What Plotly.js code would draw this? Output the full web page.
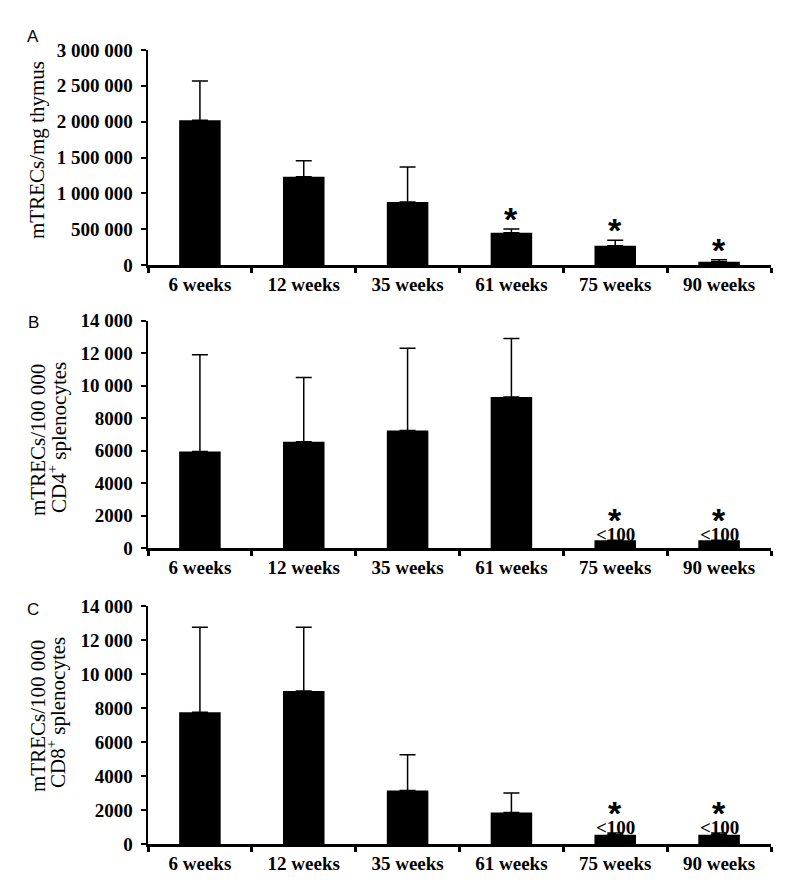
<!DOCTYPE html>
<html>
<head>
<meta charset="utf-8">
<script src="https://cdn.plot.ly/plotly-3.0.1.min.js"></script>
<style>
  html, body { margin: 0; padding: 0; background: #fff; }
  #chart { width: 800px; height: 885px; }
</style>
</head>
<body>
<div id="chart"></div>
<script>
// ---- data ----
const weeks = ['6 weeks', '12 weeks', '35 weeks', '61 weeks', '75 weeks', '90 weeks'];

const thymusMean = [2020000, 1230000, 880000, 450000, 270000, 46000];
const thymusSD   = [547000, 225000, 487000, 52000, 75000, 28000];
const thymusSig  = [false, false, false, true, true, true];
const thymusLow  = ['', '', '', '', '', ''];

const cd4Mean = [5950, 6550, 7250, 9300, 500, 500];
const cd4SD   = [5950, 3950, 5050, 3600, 0, 0];
const cd4Sig  = [false, false, false, false, true, true];
const cd4Low  = ['', '', '', '', '<100', '<100'];

const cd8Mean = [7750, 9000, 3150, 1850, 550, 550];
const cd8SD   = [5000, 3750, 2100, 1150, 100, 100];
const cd8Sig  = [false, false, false, false, true, true];
const cd8Low  = ['', '', '', '', '<100', '<100'];

const thymusTickVals = [0, 500000, 1000000, 1500000, 2000000, 2500000, 3000000];
const thymusTickText = ['0', '500 000', '1 000 000', '1 500 000', '2 000 000', '2 500 000', '3 000 000'];
const splTickVals = [0, 2000, 4000, 6000, 8000, 10000, 12000, 14000];
const splTickText = ['0', '2000', '4000', '6000', '8000', '10 000', '12 000', '14 000'];

const panelLetters = ['A', 'B', 'C'];
const titleA = 'mTRECs/mg thymus';
const titleLine1 = 'mTRECs/100 000';
const titleB2 = 'CD4<sup>+</sup> splenocytes';
const titleC2 = 'CD8<sup>+</sup> splenocytes';

// ---- layout geometry (pixels -> paper) ----
const W = 800, H = 885;
const px = v => v / W;
const py = v => 1 - v / H;
const xDomain = [px(148), px(771)];
const panels = [
  { top: 50,  bottom: 265, range: [0, 3000000] },
  { top: 320.7, bottom: 548.3, range: [0, 14000] },
  { top: 606, bottom: 844, range: [0, 14000] }
];

const serif = 'Liberation Serif, Times New Roman, serif';
const sans = 'Liberation Sans, Arial, sans-serif';

function barTrace(mean, sd, i) {
  const s = i === 0 ? '' : String(i + 1);
  return {
    type: 'bar',
    x: weeks,
    y: mean,
    xaxis: 'x' + s,
    yaxis: 'y' + s,
    marker: { color: '#000', line: { width: 0 } },
    error_y: {
      type: 'data', symmetric: false,
      array: sd, arrayminus: sd.map(() => 0),
      color: '#000', thickness: 1.5, width: 8
    },
    hoverinfo: 'x+y',
    showlegend: false
  };
}

const data = [
  barTrace(thymusMean, thymusSD, 0),
  barTrace(cd4Mean, cd4SD, 1),
  barTrace(cd8Mean, cd8SD, 2)
];

function xAxis(i) {
  const s = i === 0 ? '' : String(i + 1);
  return {
    domain: xDomain,
    anchor: 'y' + s,
    type: 'category',
    showline: true, linecolor: '#000', linewidth: 3,
    ticks: 'outside', tickson: 'boundaries', ticklen: 5, tickwidth: 3, tickcolor: '#000',
    tickfont: { family: serif, size: 19, color: '#000', weight: 'bold' },
    showgrid: false, zeroline: false, fixedrange: true
  };
}
function yAxis(i, vals, text) {
  const s = i === 0 ? '' : String(i + 1);
  const p = panels[i];
  return {
    domain: [py(p.bottom), py(p.top)],
    anchor: 'x' + s,
    range: p.range,
    tickmode: 'array', tickvals: vals, ticktext: text,
    showline: true, linecolor: '#000', linewidth: 2.5,
    ticks: 'outside', ticklen: 5, tickwidth: 2, tickcolor: '#000',
    ticklabelstandoff: 4,
    tickfont: { family: serif, size: 19, color: '#000', weight: 'bold' },
    showgrid: false, zeroline: false, fixedrange: true
  };
}

const annotations = [];
function addMarks(i, mean, sd, sig, low) {
  const s = i === 0 ? '' : String(i + 1);
  weeks.forEach((w, k) => {
    const top = mean[k] + sd[k];
    if (low[k]) {
      annotations.push({
        xref: 'x' + s, yref: 'y' + s, x: w, y: top,
        text: low[k], showarrow: false, yanchor: 'bottom', yshift: -6,
        height: 17, valign: 'bottom', borderpad: 0,
        font: { family: serif, size: 19, color: '#000', weight: 'bold' }
      });
    }
    if (sig[k]) {
      annotations.push({
        xref: 'x' + s, yref: 'y' + s, x: w, y: top,
        text: '*', showarrow: false, yanchor: 'bottom', yshift: low[k] ? 18 : 8,
        height: 20, valign: 'top', borderpad: 0,
        font: { family: sans, size: 34, color: '#000', weight: 'bold' }
      });
    }
  });
}
addMarks(0, thymusMean, thymusSD, thymusSig, thymusLow);
addMarks(1, cd4Mean, cd4SD, cd4Sig, cd4Low);
addMarks(2, cd8Mean, cd8SD, cd8Sig, cd8Low);

// panel letters
[[33, 36], [33, 323], [33, 609]].forEach((p, i) => {
  annotations.push({
    xref: 'paper', yref: 'paper', x: px(p[0]), y: py(p[1]),
    xanchor: 'center', yanchor: 'middle', showarrow: false,
    text: panelLetters[i],
    font: { family: sans, size: 17, color: '#000' }
  });
});

// y-axis titles
function yTitle(text, cx, cy) {
  annotations.push({
    xref: 'paper', yref: 'paper', x: px(cx), y: py(cy),
    xanchor: 'center', yanchor: 'middle', showarrow: false, textangle: -90,
    text: text, font: { family: serif, size: 21, color: '#000' }
  });
}
yTitle(titleA, 37, 150);
yTitle(titleLine1, 38, 440);
yTitle(titleB2, 57, 437);
yTitle(titleLine1, 38, 716);
yTitle(titleC2, 56, 713);

const layout = {
  width: W, height: H,
  margin: { l: 0, r: 0, t: 0, b: 0 },
  paper_bgcolor: '#fff', plot_bgcolor: '#fff',
  bargap: 0.6,
  showlegend: false,
  xaxis: xAxis(0), xaxis2: xAxis(1), xaxis3: xAxis(2),
  yaxis: yAxis(0, thymusTickVals, thymusTickText),
  yaxis2: yAxis(1, splTickVals, splTickText),
  yaxis3: yAxis(2, splTickVals, splTickText),
  annotations: annotations
};

Plotly.newPlot('chart', data, layout, { displayModeBar: false, staticPlot: true });
</script>
</body>
</html>
